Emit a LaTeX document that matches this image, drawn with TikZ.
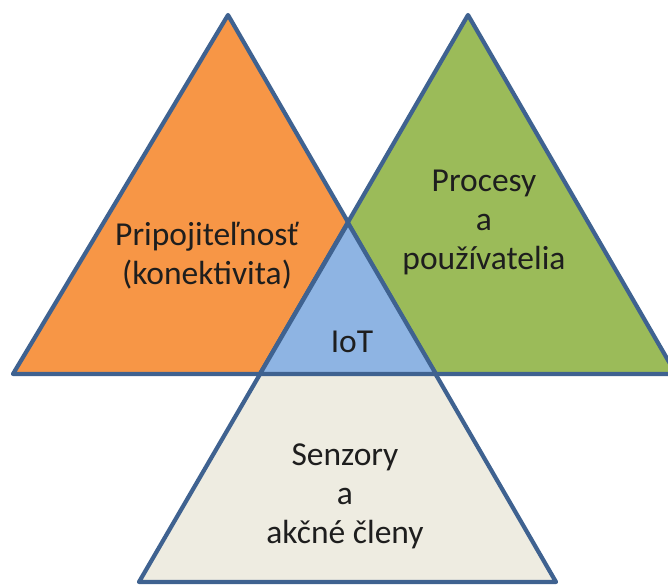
\documentclass[tikz,border=0pt]{standalone}
\usepackage{fontspec}
\setmainfont{Carlito}
\definecolor{edgeblue}{HTML}{3F6290}
\definecolor{orangefill}{HTML}{F79646}
\definecolor{greenfill}{HTML}{9BBB59}
\definecolor{bluefill}{HTML}{8EB4E3}
\definecolor{beigefill}{HTML}{EEECE1}
\definecolor{labeltext}{HTML}{1E1E1E}
\begin{document}
\begin{tikzpicture}[x=1pt,y=-1pt,
  tri/.style={draw=edgeblue,line width=4.2pt,line join=round},
  lbl/.style={text=labeltext,align=center,inner sep=0pt,
    font=\fontsize{33.5}{39}\selectfont}]
  \useasboundingbox (0,0) rectangle (668,585);
  \clip (0,0) rectangle (668,585);
  % corners of the four triangles
  \coordinate (oTop) at (228,15);
  \coordinate (oLeft) at (13,374);
  \coordinate (oRight) at (436,374);
  \coordinate (gTop) at (468,15);
  \coordinate (gLeft) at (260,374);
  \coordinate (gRight) at (676,374);
  \coordinate (bTop) at (348,223);
  \coordinate (bLeft) at (139,582);
  \coordinate (bRight) at (556,582);
  % the three outer triangles
  \filldraw[tri,fill=orangefill] (oTop) -- (oLeft) -- (oRight) -- cycle;
  \filldraw[tri,fill=greenfill] (gTop) -- (gLeft) -- (gRight) -- cycle;
  \filldraw[tri,fill=beigefill] (bTop) -- (bLeft) -- (bRight) -- cycle;
  % the shared middle triangle
  \filldraw[tri,fill=bluefill] (bTop) -- (gLeft) -- (oRight) -- cycle;
  % labels
  \node[lbl] (conn) at (207,256) {Pripojiteľnosť\\(konektivita)};
  \node[lbl] (proc) at (484,222) {Procesy\\a\\používatelia};
  \node[lbl] (iot) at (352,342) {IoT};
  \node[lbl] (sens) at (345,496) {Senzory\\a\\akčné členy};
\end{tikzpicture}
\end{document}
